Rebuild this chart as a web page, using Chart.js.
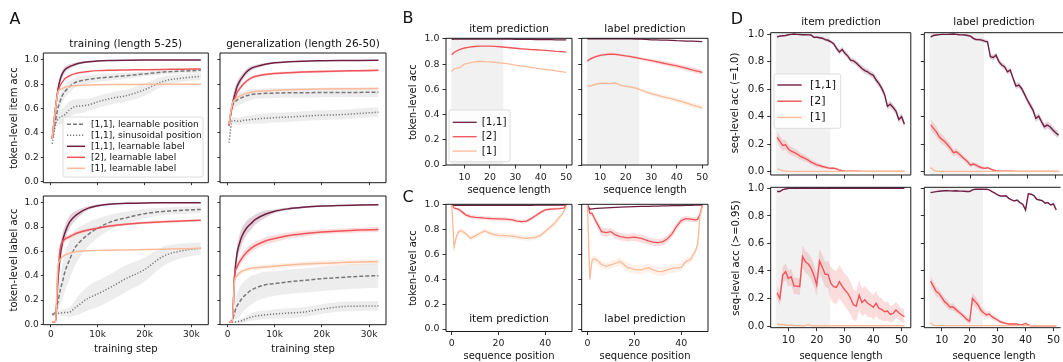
<!DOCTYPE html>
<html>
<head>
<meta charset="utf-8">
<title>Token-level and sequence-level accuracy</title>
<script src="https://cdn.jsdelivr.net/npm/chart.js"></script>
<style>
  body { margin: 0; background: #fff; }
  #fig { position: relative; width: 1063px; height: 362px; overflow: hidden; font-family: 'DejaVu Sans', sans-serif; color: #111; }
  #fig canvas { position: absolute; left: 0; top: 0; }
  .t { position: absolute; white-space: nowrap; transform: translate(-50%, -50%); font-size: 10.5px; line-height: 1; }
  .yl { transform: translate(-50%, -50%) rotate(-90deg); font-size: 10px; }
  .xl { font-size: 10px; }
  .big { font-size: 16px; }
</style>
</head>
<body>
<div id="fig"></div>
<script>
// ---- panel A: training curves ----
const steps = [300, 1000, 1500, 2000, 2500, 3000, 4000, 5000, 6000, 8000, 10000, 13000, 16000, 20000, 24000, 28000, 32000];

const aTrainItemPos = [0.36,0.50,0.60,0.66,0.71,0.74,0.78,0.81,0.825,0.84,0.85,0.86,0.87,0.885,0.90,0.908,0.915];
const aTrainItemSin = [0.31,0.47,0.51,0.53,0.54,0.55,0.59,0.615,0.62,0.63,0.655,0.685,0.705,0.755,0.825,0.85,0.865];
const aTrainItem11 = [0.35,0.60,0.75,0.84,0.89,0.92,0.945,0.96,0.972,0.985,0.992,0.996,0.998,0.999,0.999,1.0,1.0];
const aTrainItem2 = [0.35,0.60,0.73,0.79,0.82,0.845,0.87,0.885,0.895,0.905,0.912,0.916,0.918,0.92,0.922,0.924,0.925];
const aTrainItem1 = [0.35,0.60,0.73,0.755,0.765,0.775,0.783,0.788,0.79,0.793,0.795,0.797,0.798,0.799,0.80,0.80,0.80];
const aTrainItemPosBand = [0.02,0.05,0.06,0.06,0.06,0.05,0.05,0.04,0.04,0.035,0.03,0.03,0.025,0.02,0.02,0.02,0.02];
const aTrainItemSinBand = [0.02,0.04,0.05,0.06,0.06,0.07,0.07,0.06,0.06,0.05,0.05,0.05,0.05,0.05,0.04,0.03,0.03];
const aTrainItem11Band = [0.01,0.04,0.04,0.035,0.03,0.025,0.02,0.015,0.01,0.008,0.005,0.003,0.002,0.002,0.002,0.002,0.002];

const aGenItemPos = [0.47,0.62,0.65,0.67,0.68,0.69,0.705,0.715,0.72,0.725,0.727,0.73,0.73,0.732,0.733,0.733,0.735];
const aGenItemSin = [0.32,0.50,0.50,0.495,0.495,0.50,0.505,0.51,0.515,0.52,0.525,0.53,0.537,0.545,0.55,0.56,0.57];
const aGenItem11 = [0.46,0.63,0.71,0.78,0.82,0.85,0.90,0.93,0.945,0.965,0.977,0.985,0.99,0.993,0.995,0.996,0.997];
const aGenItem2 = [0.46,0.63,0.68,0.73,0.76,0.785,0.825,0.85,0.865,0.88,0.888,0.895,0.90,0.905,0.908,0.912,0.915];
const aGenItem1 = [0.47,0.64,0.67,0.69,0.70,0.71,0.725,0.735,0.74,0.745,0.75,0.755,0.757,0.76,0.762,0.763,0.765];
const aGenItemPosBand = [0.03,0.05,0.05,0.05,0.05,0.05,0.045,0.045,0.04,0.04,0.04,0.04,0.04,0.04,0.04,0.04,0.04];
const aGenItemSinBand = [0.03,0.03,0.03,0.03,0.03,0.03,0.035,0.035,0.04,0.04,0.04,0.04,0.04,0.04,0.04,0.04,0.04];
const aGenItem11Band = [0.01,0.04,0.05,0.04,0.035,0.03,0.025,0.02,0.015,0.01,0.007,0.005,0.004,0.003,0.003,0.003,0.003];
const aGenItem2Band = [0.01,0.02,0.02,0.02,0.015,0.015,0.015,0.012,0.012,0.01,0.01,0.01,0.01,0.01,0.01,0.01,0.01];

const aTrainLabelPos = [0.08,0.10,0.18,0.28,0.35,0.43,0.53,0.62,0.67,0.74,0.79,0.845,0.875,0.91,0.928,0.938,0.945];
const aTrainLabelSin = [0.08,0.085,0.09,0.092,0.095,0.097,0.10,0.13,0.16,0.215,0.25,0.31,0.375,0.45,0.56,0.605,0.625];
const aTrainLabel11 = [0.02,0.025,0.35,0.56,0.68,0.75,0.84,0.885,0.915,0.955,0.975,0.99,0.995,0.998,0.999,1.0,1.0];
const aTrainLabel2 = [0.02,0.025,0.40,0.62,0.68,0.70,0.72,0.74,0.755,0.775,0.79,0.81,0.823,0.835,0.843,0.85,0.855];
const aTrainLabel1 = [0.02,0.025,0.47,0.53,0.555,0.57,0.585,0.595,0.60,0.605,0.608,0.61,0.612,0.615,0.618,0.621,0.625];
const aTrainLabelPosBand = [0.02,0.03,0.08,0.12,0.15,0.16,0.16,0.15,0.13,0.10,0.08,0.06,0.05,0.04,0.03,0.03,0.03];
const aTrainLabelSinBand = [0.01,0.01,0.02,0.02,0.03,0.03,0.04,0.06,0.08,0.10,0.11,0.11,0.11,0.10,0.08,0.06,0.05];
const aTrainLabel11Band = [0,0,0.05,0.07,0.07,0.06,0.05,0.04,0.03,0.015,0.01,0.005,0.003,0.002,0.002,0.002,0.002];
const aTrainLabel2Band = [0,0,0.03,0.03,0.025,0.02,0.02,0.015,0.015,0.012,0.01,0.01,0.01,0.01,0.01,0.01,0.01];

const aGenLabelPos = [0.02,0.03,0.10,0.15,0.18,0.21,0.25,0.28,0.30,0.325,0.335,0.35,0.36,0.375,0.385,0.395,0.40];
const aGenLabelSin = [0.02,0.02,0.02,0.022,0.025,0.03,0.045,0.06,0.068,0.078,0.085,0.093,0.10,0.125,0.145,0.15,0.152];
const aGenLabel11 = [0.02,0.02,0.40,0.58,0.66,0.72,0.79,0.83,0.865,0.905,0.93,0.95,0.962,0.972,0.977,0.98,0.983];
const aGenLabel2 = [0.02,0.02,0.40,0.47,0.51,0.54,0.59,0.625,0.65,0.685,0.705,0.73,0.745,0.76,0.768,0.775,0.78];
const aGenLabel1 = [0.02,0.02,0.36,0.40,0.42,0.435,0.45,0.46,0.465,0.472,0.478,0.487,0.495,0.503,0.508,0.512,0.515];
const aGenLabelPosBand = [0.01,0.02,0.06,0.10,0.12,0.12,0.12,0.12,0.11,0.11,0.10,0.10,0.10,0.10,0.10,0.10,0.10];
const aGenLabelSinBand = [0.005,0.005,0.01,0.01,0.015,0.02,0.025,0.03,0.035,0.035,0.04,0.04,0.04,0.04,0.04,0.04,0.04];
const aGenLabel11Band = [0,0,0.04,0.06,0.07,0.07,0.06,0.05,0.04,0.03,0.015,0.01,0.008,0.005,0.005,0.005,0.005];
const aGenLabel2Band = [0,0,0.03,0.03,0.035,0.035,0.035,0.035,0.03,0.03,0.03,0.025,0.025,0.02,0.02,0.02,0.02];
const aGenLabel1Band = [0,0,0.02,0.02,0.02,0.02,0.018,0.018,0.018,0.018,0.02,0.02,0.02,0.022,0.022,0.022,0.022];

// ---- panel B: accuracy vs sequence length ----
const seqLen = [5,6,8,10,12,14,16,18,20,22,24,26,28,30,32,34,36,38,40,42,44,46,48,50];
const bItem11 = [0.997,0.998,0.998,0.999,0.999,0.999,0.999,0.999,0.999,0.999,0.999,0.998,0.998,0.997,0.997,0.996,0.996,0.995,0.995,0.994,0.994,0.993,0.993,0.993];
const bItem2 = [0.875,0.895,0.915,0.928,0.935,0.94,0.943,0.943,0.943,0.941,0.938,0.934,0.93,0.926,0.922,0.919,0.916,0.914,0.912,0.909,0.906,0.902,0.899,0.895];
const bItem1 = [0.74,0.765,0.77,0.80,0.81,0.818,0.823,0.82,0.818,0.815,0.81,0.806,0.80,0.792,0.787,0.78,0.774,0.768,0.763,0.758,0.753,0.747,0.74,0.735];
const bLabel11 = [1.0,1.0,1.0,1.0,1.0,1.0,1.0,1.0,1.0,1.0,0.999,0.998,0.996,0.993,0.992,0.991,0.99,0.988,0.986,0.985,0.983,0.982,0.98,0.978];
const bLabel2 = [0.824,0.84,0.858,0.87,0.875,0.88,0.878,0.872,0.865,0.86,0.852,0.843,0.835,0.828,0.82,0.811,0.803,0.795,0.786,0.776,0.766,0.755,0.745,0.735];
const bLabel1 = [0.628,0.625,0.64,0.647,0.647,0.645,0.652,0.632,0.625,0.618,0.61,0.595,0.58,0.567,0.556,0.545,0.535,0.525,0.514,0.502,0.49,0.477,0.465,0.453];
const bLabel2Band = [0.01,0.01,0.01,0.01,0.01,0.01,0.01,0.01,0.01,0.01,0.01,0.012,0.012,0.014,0.015,0.016,0.017,0.018,0.018,0.019,0.02,0.02,0.02,0.02];
const bLabel1Band = [0.01,0.01,0.01,0.01,0.01,0.01,0.01,0.01,0.01,0.012,0.012,0.012,0.014,0.015,0.016,0.017,0.018,0.018,0.019,0.02,0.02,0.02,0.02,0.02];
const trainSpanB = [4.8, 25.3];

// ---- panel C: accuracy vs sequence position ----
const seqPos = [0,1,2,3,4,6,8,10,12,14,17,20,23,26,28,30,32,34,36,38,40,42,44,46,47,48,49];
const cItem11 = [1.0,0.997,0.997,0.997,0.997,0.997,0.997,0.997,0.997,0.997,0.997,0.997,0.997,0.997,0.997,0.997,0.997,0.997,0.998,0.998,0.998,0.998,0.998,0.999,0.999,0.999,1.0];
const cItem2 = [1.0,0.975,0.97,0.965,0.95,0.92,0.905,0.90,0.897,0.893,0.89,0.887,0.885,0.88,0.87,0.866,0.87,0.89,0.915,0.94,0.96,0.965,0.968,0.97,0.973,0.975,1.0];
const cItem1 = [1.0,0.66,0.745,0.785,0.793,0.77,0.73,0.75,0.77,0.79,0.766,0.755,0.752,0.748,0.742,0.735,0.73,0.735,0.74,0.755,0.785,0.82,0.85,0.90,0.92,0.95,0.99];
const cLabel11 = [1.0,0.965,0.968,0.97,0.972,0.974,0.976,0.978,0.98,0.982,0.984,0.986,0.988,0.989,0.99,0.991,0.992,0.993,0.994,0.994,0.995,0.996,0.997,0.998,0.998,0.999,1.0];
const cLabel2 = [1.0,0.933,0.93,0.89,0.855,0.785,0.777,0.785,0.758,0.745,0.735,0.74,0.73,0.71,0.70,0.696,0.702,0.725,0.765,0.825,0.874,0.89,0.885,0.88,0.884,0.92,1.0];
const cLabel1 = [1.0,0.40,0.556,0.565,0.555,0.52,0.505,0.516,0.53,0.544,0.497,0.48,0.476,0.495,0.476,0.465,0.462,0.476,0.486,0.493,0.497,0.543,0.56,0.624,0.677,0.906,0.987];
const cItem2Band = [0,0.01,0.01,0.012,0.015,0.015,0.015,0.015,0.015,0.015,0.015,0.015,0.015,0.015,0.015,0.015,0.015,0.015,0.015,0.015,0.012,0.01,0.01,0.01,0.01,0.01,0];
const cItem1Band = [0,0.02,0.02,0.02,0.02,0.02,0.02,0.02,0.02,0.02,0.02,0.02,0.02,0.02,0.02,0.02,0.02,0.02,0.02,0.02,0.02,0.02,0.02,0.02,0.02,0.015,0];
const cLabel2Band = [0,0.02,0.02,0.025,0.03,0.035,0.035,0.03,0.03,0.03,0.03,0.03,0.03,0.03,0.03,0.03,0.03,0.03,0.03,0.03,0.025,0.02,0.02,0.02,0.02,0.02,0];
const cLabel1Band = [0,0.03,0.03,0.03,0.03,0.03,0.03,0.03,0.03,0.035,0.035,0.035,0.035,0.035,0.035,0.035,0.035,0.035,0.035,0.035,0.03,0.03,0.03,0.03,0.03,0.02,0];

// ---- panel D: sequence-level accuracy ----
const dLen = [6,7,8,9,10,11,12,13,14,15,16,17,18,19,20,21,22,23,24,25,26,27,28,29,30,31,32,33,34,35,36,37,38,39,40,41,42,43,44,45,46,47,48,49,50,51];
const dItemExact11 = [0.98,0.985,0.988,0.99,0.995,0.998,1.0,0.998,0.997,0.995,0.996,0.994,0.993,0.976,0.978,0.973,0.97,0.96,0.955,0.944,0.93,0.896,0.87,0.888,0.86,0.84,0.81,0.805,0.79,0.77,0.75,0.735,0.726,0.71,0.70,0.666,0.64,0.605,0.56,0.475,0.49,0.467,0.44,0.38,0.40,0.345];
const dItemExact2 = [0.25,0.22,0.19,0.195,0.165,0.15,0.14,0.13,0.115,0.105,0.095,0.085,0.07,0.06,0.05,0.045,0.038,0.033,0.028,0.025,0.025,0.02,0.012,0.008,0.005,0.004,0.004,0.003,0.003,0.003,0.002,0.002,0.002,0.002,0.002,0.002,0.002,0.002,0.002,0.002,0.002,0.002,0.002,0.002,0.002,0.002];
const dItemExact1 = [0.02,0.015,0.008,0.005,0.002,0.002,0.002,0.002,0.002,0.002,0.002,0.002,0.002,0.002,0.002,0.002,0.002,0.002,0.002,0.002,0.002,0.002,0.002,0.002,0.002,0.002,0.002,0.002,0.002,0.002,0.002,0.002,0.002,0.002,0.002,0.002,0.002,0.002,0.002,0.002,0.002,0.002,0.002,0.002,0.002,0.002];
const dLabelExact11 = [0.98,0.99,0.993,0.996,0.998,0.998,0.998,0.999,1.0,0.998,0.995,0.994,0.993,0.99,0.985,0.969,0.96,0.96,0.956,0.949,0.944,0.835,0.83,0.847,0.80,0.775,0.763,0.726,0.738,0.678,0.622,0.63,0.605,0.564,0.521,0.484,0.448,0.387,0.404,0.363,0.327,0.339,0.327,0.303,0.283,0.266];
const dLabelExact2 = [0.34,0.315,0.29,0.254,0.235,0.218,0.194,0.17,0.138,0.145,0.128,0.109,0.09,0.073,0.048,0.056,0.048,0.036,0.029,0.024,0.029,0.02,0.012,0.007,0.005,0.004,0.003,0.003,0.003,0.003,0.002,0.002,0.002,0.002,0.002,0.002,0.002,0.002,0.002,0.002,0.002,0.002,0.002,0.002,0.002,0.002];
const dLabelExact1 = [0.03,0.012,0.005,0.002,0.002,0.002,0.002,0.002,0.002,0.002,0.002,0.002,0.002,0.002,0.002,0.002,0.002,0.002,0.002,0.002,0.002,0.002,0.002,0.002,0.002,0.002,0.002,0.002,0.002,0.002,0.002,0.002,0.002,0.002,0.002,0.002,0.002,0.002,0.002,0.002,0.002,0.002,0.002,0.002,0.002,0.002];
const dItemThr11 = [0.976,0.976,0.99,0.995,0.999,0.999,1.0,1.0,0.999,1.0,1.0,1.0,0.999,1.0,1.0,1.0,1.0,0.999,1.0,1.0,1.0,1.0,1.0,1.0,1.0,1.0,1.0,1.0,1.0,1.0,1.0,1.0,1.0,1.0,1.0,1.0,1.0,1.0,1.0,1.0,1.0,1.0,1.0,1.0,1.0,1.0];
const dItemThr2 = [0.242,0.20,0.37,0.395,0.346,0.358,0.29,0.29,0.286,0.504,0.467,0.45,0.42,0.37,0.298,0.472,0.426,0.375,0.375,0.31,0.286,0.28,0.322,0.29,0.26,0.237,0.20,0.153,0.145,0.225,0.17,0.19,0.165,0.153,0.136,0.165,0.128,0.121,0.104,0.109,0.085,0.092,0.116,0.097,0.08,0.068];
const dItemThr1 = [0.015,0.01,0.012,0.008,0.005,0.008,0.004,0.003,0.004,0.002,0.003,0.01,0.004,0.002,0.002,0.002,0.002,0.002,0.002,0.002,0.002,0.002,0.002,0.002,0.002,0.002,0.002,0.002,0.002,0.002,0.002,0.002,0.002,0.002,0.002,0.002,0.002,0.002,0.002,0.002,0.002,0.002,0.002,0.002,0.002,0.002];
const dLabelThr11 = [0.968,0.972,0.976,0.978,0.98,0.982,0.983,0.981,0.98,0.982,0.98,0.979,0.978,0.977,0.976,0.988,0.993,0.993,0.994,0.993,0.993,0.988,0.976,0.964,0.952,0.944,0.944,0.946,0.927,0.915,0.908,0.915,0.896,0.884,0.843,0.96,0.957,0.947,0.92,0.915,0.91,0.891,0.896,0.879,0.886,0.843];
const dLabelThr2 = [0.327,0.29,0.25,0.237,0.208,0.177,0.16,0.136,0.14,0.121,0.104,0.087,0.068,0.048,0.034,0.20,0.177,0.153,0.116,0.097,0.08,0.087,0.068,0.056,0.044,0.031,0.024,0.019,0.015,0.015,0.015,0.015,0.007,0.012,0.019,0.008,0.002,0.002,0.002,0.002,0.002,0.002,0.002,0.002,0.002,0.002];
const dLabelThr1 = [0.024,0.007,0.003,0.003,0.003,0.003,0.003,0.003,0.003,0.003,0.003,0.003,0.003,0.003,0.003,0.003,0.003,0.003,0.003,0.003,0.003,0.003,0.003,0.003,0.003,0.003,0.003,0.003,0.003,0.003,0.003,0.003,0.003,0.003,0.003,0.003,0.003,0.003,0.003,0.003,0.003,0.003,0.003,0.003,0.003,0.003];
const dExact11Band = [0.01,0.008,0.006,0.005,0.004,0.003,0.002,0.003,0.003,0.004,0.004,0.005,0.005,0.008,0.008,0.01,0.01,0.01,0.012,0.012,0.015,0.018,0.02,0.02,0.02,0.02,0.02,0.02,0.02,0.02,0.022,0.022,0.022,0.022,0.022,0.025,0.025,0.025,0.025,0.025,0.025,0.025,0.025,0.025,0.025,0.025];
const dExact2Band = [0.04,0.04,0.04,0.035,0.035,0.03,0.03,0.03,0.025,0.025,0.025,0.02,0.02,0.02,0.018,0.015,0.015,0.012,0.012,0.01,0.01,0.008,0.006,0.005,0.004,0.003,0.003,0.003,0.002,0.002,0.002,0.002,0.002,0.002,0.002,0.002,0.002,0.002,0.002,0.002,0.002,0.002,0.002,0.002,0.002,0.002];
const dItemThr2Band = [0.05,0.05,0.06,0.06,0.06,0.06,0.06,0.06,0.06,0.08,0.08,0.08,0.08,0.08,0.08,0.09,0.09,0.09,0.1,0.12,0.12,0.12,0.12,0.12,0.12,0.12,0.12,0.11,0.11,0.11,0.1,0.1,0.1,0.09,0.09,0.09,0.08,0.08,0.07,0.07,0.06,0.06,0.06,0.05,0.05,0.05];
const dLabelThr2Band = [0.04,0.035,0.035,0.03,0.03,0.03,0.03,0.025,0.025,0.025,0.02,0.02,0.02,0.02,0.02,0.04,0.04,0.035,0.03,0.03,0.025,0.025,0.02,0.02,0.015,0.012,0.01,0.008,0.006,0.005,0.004,0.004,0.003,0.003,0.003,0.003,0.002,0.002,0.002,0.002,0.002,0.002,0.002,0.002,0.002,0.002];
const trainSpanD = [5.5, 24.8];

// ---- ticks ----
const accTicks = [0, 0.2, 0.4, 0.6, 0.8, 1.0];
const accTickLabels = ['0.0', '0.2', '0.4', '0.6', '0.8', '1.0'];
const stepTicks = [0, 10000, 20000, 30000];
const stepTickLabels = ['0', '10k', '20k', '30k'];
const lenTicks = [10, 20, 30, 40, 50];
const lenTickLabels = ['10', '20', '30', '40', '50'];
const posTicks = [0, 20, 40];
const posTickLabels = ['0', '20', '40'];

// ---- styling ----
const W = 1063, H = 362;
const C11 = 'rgb(112,31,67)', C2 = 'rgb(240,84,88)', C1 = 'rgb(251,186,152)', GREY = 'rgb(120,120,120)';
const GREYBAND = 'rgba(0,0,0,0.07)';
const FONT = "'DejaVu Sans'";
function rgba(c, a) { return c.replace('rgb(', 'rgba(').replace(')', ',' + a + ')'); }
function line(label, data, color, opt) { return Object.assign({ label: label, data: data, color: color }, opt || {}); }

function roundBox(ctx, x, y, w, h, r) {
  ctx.beginPath();
  ctx.moveTo(x + r, y);
  ctx.arcTo(x + w, y, x + w, y + h, r);
  ctx.arcTo(x + w, y + h, x, y + h, r);
  ctx.arcTo(x, y + h, x, y, r);
  ctx.arcTo(x, y, x + w, y, r);
  ctx.closePath();
}

const framePlugin = {
  id: 'frame',
  beforeDatasetsDraw(chart, args, o) {
    if (!o.span) return;
    const a = chart.chartArea, x = chart.scales.x, ctx = chart.ctx;
    const x0 = x.getPixelForValue(o.span[0]), x1 = x.getPixelForValue(o.span[1]);
    ctx.save();
    ctx.fillStyle = 'rgba(0,0,0,0.055)';
    ctx.fillRect(x0, a.top, x1 - x0, a.bottom - a.top);
    ctx.restore();
  },
  afterDraw(chart, args, o) {
    const a = chart.chartArea, ctx = chart.ctx;
    ctx.save();
    ctx.strokeStyle = '#000';
    ctx.lineWidth = 0.9;
    ctx.beginPath();
    ctx.moveTo(a.right, a.bottom); ctx.lineTo(a.left, a.bottom); ctx.lineTo(a.left, a.top); ctx.lineTo(a.right, a.top);
    if (!o.noRight) ctx.lineTo(a.right, a.bottom);
    ctx.stroke();
    const L = o.legend;
    if (L) {
      ctx.fillStyle = 'rgba(255,255,255,0.85)';
      ctx.strokeStyle = '#d4d4d4';
      ctx.lineWidth = 0.8;
      roundBox(ctx, L.x, L.y, L.w, L.h, 2);
      ctx.fill(); ctx.stroke();
      const items = chart.data.datasets.filter(d => d.inLegend);
      ctx.font = L.size + 'px ' + FONT;
      ctx.textBaseline = 'middle';
      items.forEach((d, i) => {
        const y = L.y0 + i * L.row;
        ctx.strokeStyle = d.borderColor;
        ctx.lineWidth = d.borderWidth;
        ctx.setLineDash(d.borderDash);
        ctx.beginPath(); ctx.moveTo(L.lx, y); ctx.lineTo(L.lx + L.len, y); ctx.stroke();
        ctx.setLineDash([]);
        ctx.fillStyle = '#111';
        ctx.fillText(d.label, L.tx, y);
      });
    }
    ctx.restore();
  }
};

// the scale boxes get a fixed size so the plot area lands exactly on the padded rectangle
function axis(a, tk, horizontal, room) {
  return {
    type: 'linear', min: a.min, max: a.max,
    afterFit: s => { if (horizontal) s.height = room; else s.width = room; },
    afterBuildTicks: s => { s.ticks = a.ticks.map(v => ({ value: v })); },
    ticks: {
      autoSkip: false, maxRotation: 0, minRotation: 0, padding: tk.pad, color: '#1a1a1a',
      font: { family: FONT, size: tk.size },
      callback: (v, i) => (a.labels ? a.labels[i] : '')
    },
    grid: { drawOnChartArea: false, drawTicks: true, tickLength: tk.len, color: '#000', lineWidth: 0.8 },
    border: { display: false }
  };
}

function panel(p) {
  const cv = document.createElement('canvas');
  cv.width = W; cv.height = H;
  document.getElementById('fig').appendChild(cv);
  const interp = p.smooth ? 'monotone' : 'default';
  const ds = [];
  p.series.forEach((s, i) => {
    if (s.band) {
      ds.push({ data: p.xs.map((x, j) => ({ x: x, y: s.data[j] - s.band[j] })), borderColor: 'rgba(0,0,0,0)', borderWidth: 0,
        pointRadius: 0, fill: false, order: 100, cubicInterpolationMode: interp });
      ds.push({ data: p.xs.map((x, j) => ({ x: x, y: s.data[j] + s.band[j] })), borderColor: 'rgba(0,0,0,0)', borderWidth: 0,
        pointRadius: 0, fill: '-1', backgroundColor: s.bandColor || rgba(s.color, 0.2), order: 100, cubicInterpolationMode: interp });
    }
    ds.push({ label: s.label, data: p.xs.map((x, j) => ({ x: x, y: s.data[j] })), borderColor: s.color, borderWidth: p.lw,
      borderDash: s.dash || [], pointRadius: 0, fill: false, order: 50 - i, cubicInterpolationMode: interp, inLegend: true });
  });
  const r = p.rect;
  const yRoom = 36, xRoom = 22;
  return new Chart(cv, {
    type: 'line',
    data: { datasets: ds },
    options: {
      responsive: false, animation: false, devicePixelRatio: 1,
      layout: { autoPadding: false, padding: { left: r[0] - yRoom, top: r[1], right: W - r[2], bottom: H - r[3] - xRoom } },
      scales: { x: axis(p.x, p.tk, true, xRoom), y: axis(p.y, p.tk, false, yRoom) },
      plugins: { legend: { display: false }, tooltip: { enabled: false },
        frame: { span: p.span, legend: p.legend, noRight: p.noRight } }
    },
    plugins: [framePlugin]
  });
}

// ---- build panels ----
const tkA = { len: 2.5, pad: 2, size: 9 };
const tkB = { len: 3.5, pad: 3, size: 9.4 };
const tkD = { len: 3.5, pad: 3, size: 10.3 };
const xStep = (show) => ({ min: -1600, max: 33600, ticks: stepTicks, labels: show ? stepTickLabels : null });
const yAcc = (min, max, show) => ({ min: min, max: max, ticks: accTicks, labels: show ? accTickLabels : null });

function aSeries(pos, sin, s11, s2, s1, bands) {
  return [
    line('[1,1], learnable position', pos, GREY, { dash: [4, 2], band: bands[0], bandColor: GREYBAND }),
    line('[1,1], sinusoidal position', sin, GREY, { dash: [1.2, 1.8], band: bands[1], bandColor: GREYBAND }),
    line('[1,1], learnable label', s11, C11, { band: bands[2] }),
    line('[2], learnable label', s2, C2, { band: bands[3] }),
    line('[1], learnable label', s1, C1, { band: bands[4] })
  ];
}

panel({ rect: [43.3, 53, 208.3, 182.7], xs: steps, smooth: true, lw: 1.5, tk: tkA,
  x: xStep(false), y: yAcc(-0.01, 1.057, true),
  series: aSeries(aTrainItemPos, aTrainItemSin, aTrainItem11, aTrainItem2, aTrainItem1,
    [aTrainItemPosBand, aTrainItemSinBand, aTrainItem11Band, null, null]),
  legend: { x: 63, y: 117, w: 140, h: 60, y0: 124.3, row: 11, lx: 67, len: 18, tx: 91, size: 9 } });
panel({ rect: [220, 53, 386, 182.7], xs: steps, smooth: true, lw: 1.5, tk: tkA,
  x: xStep(false), y: yAcc(-0.01, 1.057, false),
  series: aSeries(aGenItemPos, aGenItemSin, aGenItem11, aGenItem2, aGenItem1,
    [aGenItemPosBand, aGenItemSinBand, aGenItem11Band, aGenItem2Band, null]) });
panel({ rect: [43.3, 196, 208.3, 324.7], xs: steps, smooth: true, lw: 1.5, tk: tkA,
  x: xStep(true), y: yAcc(-0.003, 1.055, true),
  series: aSeries(aTrainLabelPos, aTrainLabelSin, aTrainLabel11, aTrainLabel2, aTrainLabel1,
    [aTrainLabelPosBand, aTrainLabelSinBand, aTrainLabel11Band, aTrainLabel2Band, null]) });
panel({ rect: [220, 196, 386, 324.7], xs: steps, smooth: true, lw: 1.5, tk: tkA,
  x: xStep(true), y: yAcc(-0.003, 1.055, false),
  series: aSeries(aGenLabelPos, aGenLabelSin, aGenLabel11, aGenLabel2, aGenLabel1,
    [aGenLabelPosBand, aGenLabelSinBand, aGenLabel11Band, aGenLabel2Band, aGenLabel1Band]) });

function trio(s11, s2, s1, bands) {
  bands = bands || [];
  return [
    line('[1,1]', s11, C11, { band: bands[0] }),
    line('[2]', s2, C2, { band: bands[1] }),
    line('[1]', s1, C1, { band: bands[2] })
  ];
}

panel({ rect: [446, 38.3, 572, 165], xs: seqLen, lw: 1.3, tk: tkB, span: trainSpanB,
  x: { min: 2.75, max: 52.25, ticks: lenTicks, labels: lenTickLabels }, y: yAcc(0, 1.005, true),
  series: trio(bItem11, bItem2, bItem1),
  legend: { x: 449, y: 110, w: 61, h: 51.7, y0: 122.3, row: 14.4, lx: 452.7, len: 24, tx: 481.7, size: 10.5 } });
panel({ rect: [581.7, 38.3, 708, 165], xs: seqLen, lw: 1.3, tk: tkB, span: trainSpanB,
  x: { min: 2.75, max: 52.25, ticks: lenTicks, labels: lenTickLabels }, y: yAcc(0, 1.005, false),
  series: trio(bLabel11, bLabel2, bLabel1, [null, bLabel2Band, bLabel1Band]) });

panel({ rect: [446, 204.3, 572, 331.5], xs: seqPos, lw: 1.3, tk: tkB,
  x: { min: -2.45, max: 51.45, ticks: posTicks, labels: posTickLabels }, y: yAcc(-0.02, 1.005, true),
  series: trio(cItem11, cItem2, cItem1, [null, cItem2Band, cItem1Band]) });
panel({ rect: [581.7, 204.3, 708, 331.5], xs: seqPos, lw: 1.3, tk: tkB,
  x: { min: -2.45, max: 51.45, ticks: posTicks, labels: posTickLabels }, y: yAcc(-0.02, 1.005, false),
  series: trio(cLabel11, cLabel2, cLabel1, [null, cLabel2Band, cLabel1Band]) });

panel({ rect: [770.7, 32.7, 910.8, 175], xs: dLen, lw: 1.4, tk: tkD, span: trainSpanD,
  x: { min: 3.75, max: 53.25, ticks: lenTicks, labels: null }, y: yAcc(-0.024, 1.01, true),
  series: trio(dItemExact11, dItemExact2, dItemExact1, [dExact11Band, dExact2Band, null]),
  legend: { x: 774, y: 74, w: 66.7, h: 54.3, y0: 85, row: 16.2, lx: 777.3, len: 24.4, tx: 810, size: 11 } });
panel({ rect: [924.3, 32.7, 1063, 175], xs: dLen, lw: 1.4, tk: tkD, span: trainSpanD, noRight: true,
  x: { min: 3.75, max: 52.56, ticks: lenTicks, labels: null }, y: yAcc(-0.024, 1.01, false),
  series: trio(dLabelExact11, dLabelExact2, dLabelExact1, [dExact11Band, dExact2Band, null]) });
panel({ rect: [770.7, 187.3, 910.8, 327.7], xs: dLen, lw: 1.4, tk: tkD, span: trainSpanD,
  x: { min: 3.75, max: 53.25, ticks: lenTicks, labels: lenTickLabels }, y: yAcc(-0.012, 1.007, true),
  series: trio(dItemThr11, dItemThr2, dItemThr1, [null, dItemThr2Band, null]) });
panel({ rect: [924.3, 187.3, 1063, 327.7], xs: dLen, lw: 1.4, tk: tkD, span: trainSpanD, noRight: true,
  x: { min: 3.75, max: 52.56, ticks: lenTicks, labels: lenTickLabels }, y: yAcc(-0.012, 1.007, false),
  series: trio(dLabelThr11, dLabelThr2, dLabelThr1, [null, dLabelThr2Band, null]) });

// ---- text ----
const texts = [
  ['A', 15, 19, 'big'], ['B', 408, 18, 'big'], ['C', 408, 197, 'big'], ['D', 737, 19, 'big'],
  ['training (length 5-25)', 125.8, 43, ''], ['generalization (length 26-50)', 303, 43, ''],
  ['training step', 125.8, 349, 'xl'], ['training step', 303, 349, 'xl'],
  ['token-level item acc', 14, 118, 'yl'], ['token-level label acc', 14, 260, 'yl'],
  ['item prediction', 509, 28, ''], ['label prediction', 645, 28, ''],
  ['sequence length', 509, 190, 'xl'], ['sequence length', 645, 190, 'xl'],
  ['token-level acc', 413, 101.7, 'yl'], ['token-level acc', 413, 267.7, 'yl'],
  ['item prediction', 509, 317.7, ''], ['label prediction', 645, 317.7, ''],
  ['sequence position', 509, 356, 'xl'], ['sequence position', 645, 356, 'xl'],
  ['item prediction', 841, 20.7, ''], ['label prediction', 994, 20.7, ''],
  ['seq-level acc (=1.0)', 735, 103, 'yl'], ['seq-level acc (>=0.95)', 736, 257.5, 'yl'],
  ['sequence length', 841, 356, 'xl'], ['sequence length', 994, 356, 'xl']
];
const fig = document.getElementById('fig');
texts.forEach(t => {
  const d = document.createElement('div');
  d.className = 't ' + t[3];
  d.textContent = t[0];
  d.style.left = t[1] + 'px';
  d.style.top = t[2] + 'px';
  fig.appendChild(d);
});
</script>
</body>
</html>
